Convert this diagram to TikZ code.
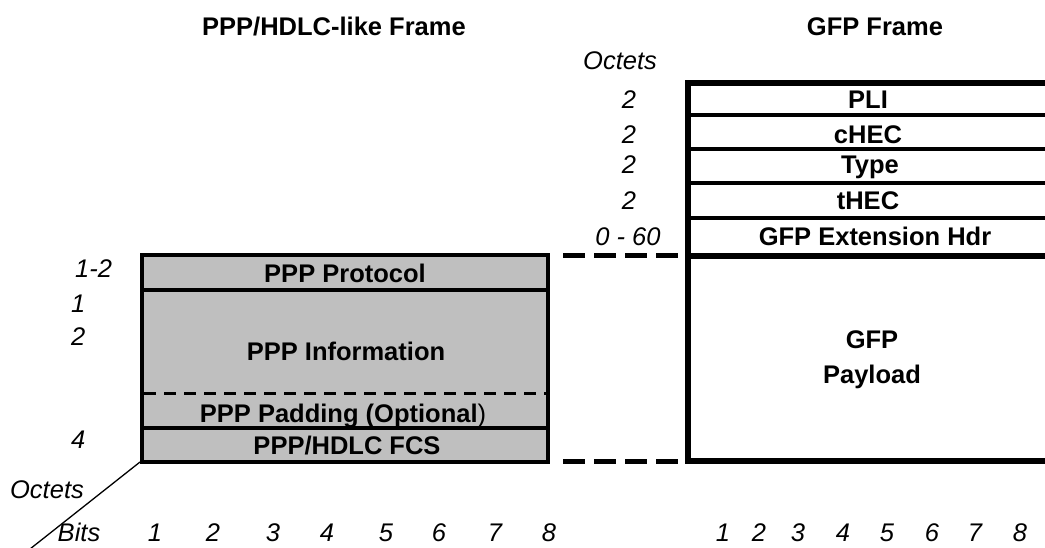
\documentclass[tikz,border=0pt]{standalone}
\usepackage{fontspec}
\setmainfont{Liberation Sans}
\begin{document}
\begin{tikzpicture}[x=1pt,y=-1pt,
  lab/.style={font=\fontsize{25.5}{30}\selectfont\bfseries, inner sep=0pt, anchor=base},
  num/.style={font=\fontsize{25.5}{30}\selectfont\itshape, inner sep=0pt, anchor=base},
  thinrule/.style={line width=4pt},
  thickrule/.style={line width=6.5pt},
  joinline/.style={line width=5pt, dash pattern=on 22pt off 9pt}]
\useasboundingbox (0,0) rectangle (1045,547);

% titles
\node[lab] (t1) at (334,35) {PPP/HDLC-like Frame};
\node[lab] (t2) at (875,35) {GFP Frame};

% left frame
\coordinate (ltl) at (142,255);
\coordinate (lbr) at (548,462);
\fill[black!25] (ltl) rectangle (lbr);
\draw[thinrule] (142,290) -- (548,290);
\draw[thinrule] (142,428) -- (548,428);
\draw[line width=3pt, dash pattern=on 12pt off 8pt] (144,393) -- (548,393);
\draw[thinrule] (ltl) rectangle (lbr);
\node[lab] (proto) at (345,282) {PPP Protocol};
\node[lab] (info) at (346,360) {PPP Information};
\node[lab] (pad) at (343,422) {PPP Padding (Optional\mdseries)};
\node[lab] (fcs) at (347,454) {PPP/HDLC FCS};

% left labels
\node[num, anchor=base west] (l12) at (75,277) {1-2};
\node[num, anchor=base west] (l1) at (71,312) {1};
\node[num, anchor=base west] (l2) at (71,345) {2};
\node[num, anchor=base west] (l4) at (71,448) {4};
\node[num] (loct) at (47,498) {Octets};
\node[num] (lbits) at (79,541) {Bits};
\coordinate (dstart) at (140,462);
\coordinate (dend) at (30,549);
\draw[line width=1.3pt] (dstart) -- (dend);
\foreach \i/\x in {1/155,2/213,3/273,4/327,5/386,6/439,7/495,8/549}
  \node[num] (lb\i) at (\x,541) {\i};

% GFP frame
\coordinate (gtl) at (688,83);
\coordinate (gbl) at (688,461);
\draw[thinrule] (688,115) -- (1045,115);
\draw[thinrule] (688,149) -- (1045,149);
\draw[thinrule] (688,183) -- (1045,183);
\draw[thinrule] (688,218) -- (1045,218);
\draw[thickrule] (688,256) -- (1045,256);
\draw[thickrule] (685,83) -- (1045,83);
\draw[thickrule] (688,461) -- (1045,461);
\draw[thickrule] (688,80) -- (688,464);
\node[lab] (pli) at (868,108.5) {PLI};
\node[lab] (chec) at (868,143.5) {cHEC};
\node[lab] (type) at (870,173.5) {Type};
\node[lab] (thec) at (868,209.5) {tHEC};
\node[lab] (ext) at (875,245) {GFP Extension Hdr};
\node[lab] (gfp) at (872,348) {GFP};
\node[lab] (payload) at (872,383) {Payload};

% right labels
\node[num] (roct) at (620,69) {Octets};
\node[num] (r1) at (629,108.5) {2};
\node[num] (r2) at (629,143.5) {2};
\node[num] (r3) at (629,173.5) {2};
\node[num] (r4) at (629,209.5) {2};
\node[num] (r5) at (628,245) {0 - 60};
\foreach \i/\x in {1/723,2/759,3/798,4/843,5/887,6/932,7/975,8/1020}
  \node[num] (rb\i) at (\x,541) {\i};

% dashed joins
\coordinate (j1) at (563,255);
\coordinate (j2) at (563,461);
\draw[joinline] (j1) -- (gtl |- j1);
\draw[joinline] (j2) -- (gbl);
\end{tikzpicture}
\end{document}
